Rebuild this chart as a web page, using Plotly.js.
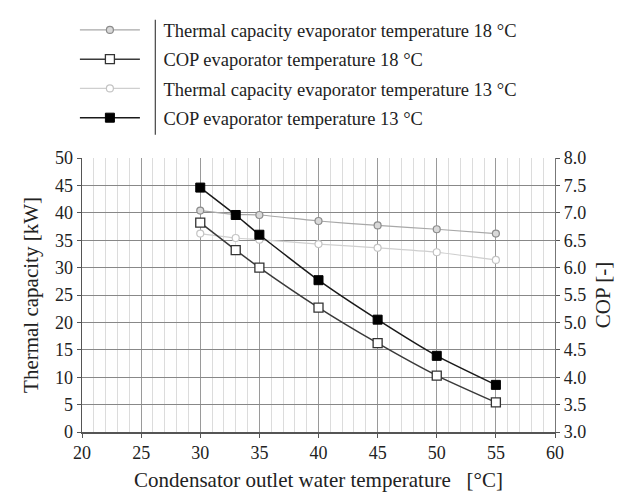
<!DOCTYPE html>
<html>
<head>
<meta charset="utf-8">
<script src="https://cdn.plot.ly/plotly-3.0.1.min.js"></script>
<style>
  html, body { margin: 0; padding: 0; background: #fff; }
  #chart { width: 623px; height: 494px; }
</style>
</head>
<body>
<div id="chart"></div>
<script>
// Condensator outlet water temperature [°C]
const condTemp = [30, 33, 35, 40, 45, 50, 55];

// Thermal capacity [kW]
const capEvap18 = [40.4, 39.7, 39.6, 38.5, 37.7, 37.0, 36.2];
const capEvap13 = [36.2, 35.4, 35.1, 34.3, 33.6, 32.8, 31.4];

// COP [-]
const copEvap18 = [6.82, 6.32, 6.00, 5.27, 4.62, 4.03, 3.54];
const copEvap13 = [7.46, 6.96, 6.60, 5.77, 5.05, 4.39, 3.86];

const seriesNames = [
  'Thermal capacity evaporator temperature 18 °C',
  'COP evaporator temperature 18 °C',
  'Thermal capacity evaporator temperature 13 °C',
  'COP evaporator temperature 13 °C'
];

const serif = "'Liberation Serif', 'DejaVu Serif', serif";
// small gap so the labels sit to the right of the separator line
const pad = '\u00a0\u00a0\u00a0\u00a0';

const traces = [
  {
    x: condTemp, y: capEvap18, name: pad + seriesNames[0], legendgroup: 'a',
    mode: 'lines+markers', line: {color: '#a8a8a8', width: 1.2, shape: 'spline', smoothing: 0.5},
    marker: {symbol: 'circle', size: 7, color: '#d9d9d9', line: {color: '#8c8c8c', width: 1.2}}
  },
  {
    x: condTemp, y: copEvap18, name: pad + seriesNames[1], legendgroup: 'b', yaxis: 'y2',
    mode: 'lines+markers', line: {color: '#3a3a3a', width: 1.5, shape: 'spline', smoothing: 0.5},
    marker: {symbol: 'square', size: 9, color: '#ffffff', line: {color: '#333333', width: 1.3}}
  },
  {
    x: condTemp, y: capEvap13, name: pad + seriesNames[2], legendgroup: 'c',
    mode: 'lines+markers', line: {color: '#cfcfcf', width: 1.2, shape: 'spline', smoothing: 0.5},
    marker: {symbol: 'circle', size: 7, color: '#ffffff', line: {color: '#c4c4c4', width: 1.2}}
  },
  {
    x: condTemp, y: copEvap13, name: pad + seriesNames[3], legendgroup: 'd', yaxis: 'y2',
    mode: 'lines+markers', line: {color: '#1a1a1a', width: 1.5, shape: 'spline', smoothing: 0.5},
    marker: {symbol: 'square', size: 9, color: '#000000', line: {color: '#000000', width: 1}}
  }
];

const layout = {
  width: 623, height: 494,
  margin: {l: 82, r: 68, t: 154, b: 62},
  paper_bgcolor: '#ffffff', plot_bgcolor: '#ffffff',
  font: {family: serif, color: '#222', size: 18},
  showlegend: true,
  legend: {
    x: -0.015, y: 1.535, xanchor: 'left', yanchor: 'top',
    xref: 'paper', yref: 'paper',
    font: {family: serif, size: 18.5, color: '#222'},
    itemwidth: 60, tracegroupgap: 2.2,
    bgcolor: 'rgba(0,0,0,0)', borderwidth: 0
  },
  xaxis: {
    range: [20, 60], dtick: 5, tick0: 20,
    showgrid: true, gridcolor: '#9a9a9a', gridwidth: 1,
    minor: {dtick: 1, showgrid: true, gridcolor: '#dcdcdc', gridwidth: 1},
    showline: true, linecolor: '#555', linewidth: 1.5,
    ticks: 'outside', ticklen: 4, tickcolor: '#555',
    tickfont: {family: serif, size: 18, color: '#222'},
    zeroline: false,
    title: {text: 'Condensator outlet water temperature\u00a0\u00a0\u00a0[°C]', font: {family: serif, size: 21, color: '#222'}, standoff: 10}
  },
  yaxis: {
    range: [0, 50], dtick: 5,
    showgrid: true, gridcolor: '#888888', gridwidth: 1,
    showline: true, linecolor: '#555', linewidth: 1.5,
    ticks: 'outside', ticklen: 4, tickcolor: '#555',
    tickfont: {family: serif, size: 18, color: '#222'},
    zeroline: false,
    title: {text: 'Thermal capacity [kW]', font: {family: serif, size: 21, color: '#222'}, standoff: 10}
  },
  yaxis2: {
    range: [3, 8], dtick: 0.5, tickformat: '.1f',
    overlaying: 'y', side: 'right',
    showgrid: false, zeroline: false,
    showline: true, linecolor: '#777', linewidth: 1.2,
    ticks: 'outside', ticklen: 4, tickcolor: '#555',
    tickfont: {family: serif, size: 18, color: '#222'},
    title: {text: 'COP [-]', font: {family: serif, size: 21, color: '#222'}, standoff: 10}
  },
  shapes: [
    // separator between legend symbols and labels
    {type: 'line', xref: 'paper', yref: 'paper', x0: 0.155, x1: 0.155, y0: 1.085, y1: 1.505,
     line: {color: '#444', width: 1.2}}
  ]
};

Plotly.newPlot('chart', traces, layout, {displayModeBar: false, staticPlot: true});
</script>
</body>
</html>
